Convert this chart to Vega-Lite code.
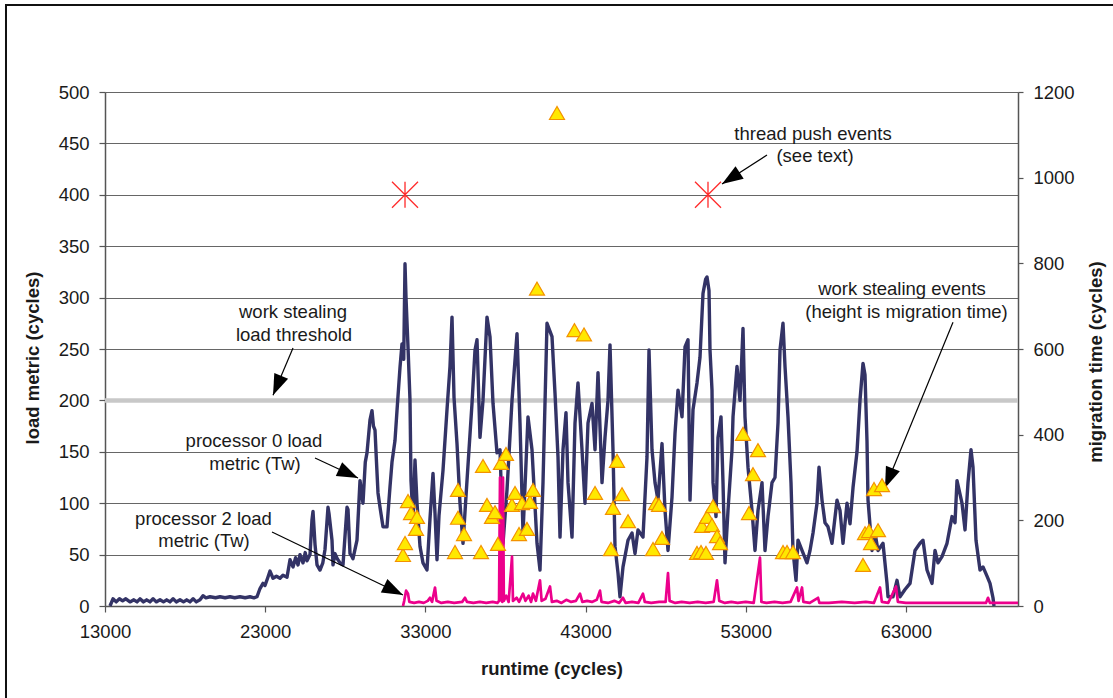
{
  "$schema": "https://vega.github.io/schema/vega-lite/v6.json",
  "width": 913,
  "height": 514,
  "autosize": {"type": "none"},
  "padding": {"left": 105, "top": 92, "right": 95, "bottom": 92},
  "background": "white",
  "config": {
    "view": {"stroke": null},
    "axis": {
      "labelFont": "Liberation Sans", "labelFontSize": 18.5, "labelColor": "#1a1a1a",
      "titleFont": "Liberation Sans", "titleFontSize": 18.5, "titleFontWeight": "bold", "titleColor": "#1a1a1a",
      "domainColor": "#555555", "domainWidth": 1.5, "tickColor": "#555555", "tickWidth": 1.2,
      "gridColor": "#666666", "gridWidth": 1.2, "gridOpacity": 1, "labelFlush": false, "labelOverlap": false
    }
  },
  "datasets": {
    "p0": [
      {"x":13312,"y":0},{"x":13499,"y":7},{"x":13700,"y":4},{"x":13900,"y":7},{"x":14100,"y":5},{"x":14300,"y":7},{"x":14561,"y":4},{"x":14800,"y":6},{"x":15000,"y":4},{"x":15185,"y":7},{"x":15400,"y":4},{"x":15600,"y":6},{"x":15809,"y":4},{"x":16000,"y":7},{"x":16200,"y":4},{"x":16434,"y":6},{"x":16650,"y":4},{"x":16850,"y":6},{"x":17058,"y":4},{"x":17250,"y":7},{"x":17450,"y":4},{"x":17682,"y":6},{"x":17900,"y":4},{"x":18100,"y":6},{"x":18307,"y":4},{"x":18500,"y":7},{"x":18700,"y":4},{"x":18931,"y":6},{"x":19118,"y":10},{"x":19300,"y":8},{"x":19555,"y":9},{"x":19900,"y":8},{"x":20180,"y":9},{"x":20500,"y":8},{"x":20804,"y":9},{"x":21100,"y":8},{"x":21428,"y":9},{"x":21750,"y":8},{"x":22053,"y":9},{"x":22300,"y":8},{"x":22490,"y":9},{"x":22677,"y":17},{"x":22864,"y":22},{"x":22989,"y":20},{"x":23150,"y":27},{"x":23301,"y":34},{"x":23489,"y":27},{"x":23700,"y":29},{"x":23926,"y":27},{"x":24113,"y":30},{"x":24363,"y":28},{"x":24550,"y":45},{"x":24737,"y":38},{"x":24900,"y":47},{"x":25050,"y":40},{"x":25174,"y":50},{"x":25362,"y":42},{"x":25500,"y":52},{"x":25611,"y":44},{"x":25799,"y":50},{"x":25923,"y":84},{"x":25986,"y":92},{"x":26111,"y":60},{"x":26236,"y":40},{"x":26423,"y":35},{"x":26600,"y":42},{"x":26735,"y":55},{"x":26922,"y":96},{"x":26985,"y":90},{"x":27172,"y":64},{"x":27235,"y":40},{"x":27359,"y":51},{"x":27500,"y":46},{"x":27672,"y":42},{"x":27859,"y":40},{"x":28109,"y":96},{"x":28171,"y":94},{"x":28296,"y":51},{"x":28421,"y":48},{"x":28483,"y":46},{"x":28733,"y":64},{"x":28920,"y":122},{"x":29107,"y":100},{"x":29250,"y":140},{"x":29357,"y":149},{"x":29544,"y":181},{"x":29669,"y":190},{"x":29760,"y":175},{"x":29857,"y":171},{"x":29950,"y":140},{"x":30044,"y":110},{"x":30169,"y":96},{"x":30356,"y":77},{"x":30606,"y":77},{"x":30793,"y":116},{"x":30918,"y":140},{"x":31105,"y":161},{"x":31230,"y":190},{"x":31417,"y":232},{"x":31542,"y":255},{"x":31650,"y":240},{"x":31730,"y":333},{"x":31792,"y":300},{"x":31917,"y":252},{"x":32042,"y":200},{"x":32104,"y":122},{"x":32230,"y":85},{"x":32354,"y":142},{"x":32479,"y":100},{"x":32666,"y":58},{"x":32853,"y":42},{"x":33103,"y":35},{"x":33290,"y":85},{"x":33478,"y":129},{"x":33603,"y":90},{"x":33727,"y":45},{"x":33852,"y":88},{"x":34102,"y":132},{"x":34352,"y":191},{"x":34539,"y":233},{"x":34664,"y":281},{"x":34789,"y":203},{"x":34976,"y":158},{"x":35163,"y":100},{"x":35351,"y":61},{"x":35600,"y":122},{"x":35913,"y":197},{"x":36100,"y":249},{"x":36225,"y":259},{"x":36412,"y":164},{"x":36599,"y":200},{"x":36849,"y":281},{"x":37036,"y":262},{"x":37224,"y":197},{"x":37473,"y":149},{"x":37661,"y":152},{"x":37848,"y":61},{"x":38098,"y":113},{"x":38410,"y":200},{"x":38722,"y":265},{"x":38909,"y":178},{"x":39097,"y":71},{"x":39409,"y":184},{"x":39658,"y":152},{"x":39971,"y":61},{"x":40158,"y":35},{"x":40345,"y":120},{"x":40595,"y":275},{"x":40907,"y":262},{"x":41094,"y":207},{"x":41282,"y":145},{"x":41407,"y":67},{"x":41594,"y":152},{"x":41781,"y":188},{"x":41906,"y":120},{"x":42156,"y":67},{"x":42343,"y":178},{"x":42530,"y":217},{"x":42780,"y":152},{"x":42967,"y":100},{"x":43155,"y":178},{"x":43404,"y":197},{"x":43592,"y":152},{"x":43779,"y":227},{"x":44029,"y":120},{"x":44216,"y":164},{"x":44403,"y":200},{"x":44528,"y":254},{"x":44715,"y":152},{"x":44840,"y":58},{"x":45028,"y":32},{"x":45152,"y":9},{"x":45340,"y":38},{"x":45652,"y":64},{"x":45902,"y":71},{"x":46089,"y":51},{"x":46276,"y":74},{"x":46588,"y":67},{"x":46838,"y":145},{"x":46963,"y":249},{"x":47150,"y":152},{"x":47338,"y":120},{"x":47525,"y":103},{"x":47775,"y":158},{"x":47962,"y":93},{"x":48149,"y":54},{"x":48399,"y":106},{"x":48586,"y":168},{"x":48774,"y":210},{"x":49023,"y":184},{"x":49211,"y":252},{"x":49398,"y":259},{"x":49523,"y":103},{"x":49710,"y":191},{"x":49960,"y":217},{"x":50147,"y":242},{"x":50334,"y":304},{"x":50500,"y":318},{"x":50584,"y":320},{"x":50709,"y":307},{"x":50771,"y":249},{"x":50896,"y":210},{"x":50959,"y":120},{"x":51146,"y":87},{"x":51271,"y":164},{"x":51458,"y":184},{"x":51583,"y":120},{"x":51708,"y":42},{"x":51895,"y":93},{"x":52145,"y":152},{"x":52208,"y":184},{"x":52457,"y":233},{"x":52644,"y":200},{"x":52832,"y":270},{"x":52956,"y":184},{"x":53144,"y":135},{"x":53393,"y":93},{"x":53581,"y":54},{"x":53768,"y":93},{"x":54018,"y":120},{"x":54205,"y":54},{"x":54392,"y":87},{"x":54642,"y":120},{"x":54829,"y":125},{"x":55017,"y":178},{"x":55142,"y":249},{"x":55329,"y":275},{"x":55454,"y":233},{"x":55641,"y":184},{"x":55828,"y":120},{"x":55953,"y":54},{"x":56141,"y":25},{"x":56265,"y":64},{"x":56515,"y":54},{"x":56827,"y":42},{"x":57015,"y":54},{"x":57202,"y":71},{"x":57452,"y":100},{"x":57577,"y":135},{"x":57764,"y":103},{"x":57951,"y":81},{"x":58138,"y":77},{"x":58388,"y":61},{"x":58700,"y":103},{"x":58888,"y":93},{"x":59075,"y":61},{"x":59325,"y":100},{"x":59512,"y":80},{"x":59699,"y":115},{"x":59949,"y":150},{"x":60136,"y":200},{"x":60323,"y":236},{"x":60448,"y":225},{"x":60573,"y":160},{"x":60636,"y":103},{"x":60885,"y":54},{"x":61073,"y":71},{"x":61260,"y":54},{"x":61572,"y":61},{"x":61822,"y":22},{"x":61884,"y":9},{"x":62196,"y":9},{"x":62446,"y":25},{"x":62633,"y":9},{"x":62946,"y":16},{"x":63258,"y":22},{"x":63570,"y":54},{"x":63882,"y":61},{"x":64069,"y":64},{"x":64319,"y":35},{"x":64631,"y":22},{"x":64819,"y":54},{"x":65006,"y":42},{"x":65255,"y":48},{"x":65568,"y":61},{"x":65880,"y":87},{"x":66067,"y":81},{"x":66192,"y":122},{"x":66504,"y":100},{"x":66692,"y":74},{"x":66879,"y":120},{"x":67066,"y":152},{"x":67191,"y":135},{"x":67378,"y":64},{"x":67628,"y":35},{"x":67815,"y":38},{"x":68065,"y":29},{"x":68252,"y":22},{"x":68439,"y":8},{"x":68502,"y":0}
    ],
    "p2": [
      {"x":31605,"y":0},{"x":31680,"y":5},{"x":31800,"y":15},{"x":31917,"y":12},{"x":32000,"y":4},{"x":32300,"y":3},{"x":32600,"y":4},{"x":32900,"y":3},{"x":33150,"y":5},{"x":33290,"y":8},{"x":33420,"y":4},{"x":33603,"y":18},{"x":33700,"y":5},{"x":34000,"y":3},{"x":34400,"y":4},{"x":34800,"y":3},{"x":35300,"y":4},{"x":35476,"y":8},{"x":35600,"y":4},{"x":36000,"y":3},{"x":36400,"y":4},{"x":36800,"y":3},{"x":37200,"y":4},{"x":37500,"y":3},{"x":37600,"y":5},{"x":37661,"y":125},{"x":37720,"y":6},{"x":37800,"y":4},{"x":37848,"y":125},{"x":37900,"y":5},{"x":38050,"y":10},{"x":38200,"y":4},{"x":38410,"y":48},{"x":38470,"y":5},{"x":38700,"y":8},{"x":38850,"y":4},{"x":39097,"y":12},{"x":39250,"y":5},{"x":39450,"y":10},{"x":39600,"y":4},{"x":39721,"y":12},{"x":39900,"y":5},{"x":40158,"y":25},{"x":40260,"y":5},{"x":40500,"y":7},{"x":40782,"y":19},{"x":40900,"y":4},{"x":41200,"y":5},{"x":41500,"y":3},{"x":41800,"y":6},{"x":42100,"y":4},{"x":42400,"y":5},{"x":42655,"y":12},{"x":42800,"y":4},{"x":43100,"y":5},{"x":43400,"y":4},{"x":43700,"y":6},{"x":43904,"y":15},{"x":44000,"y":4},{"x":44400,"y":3},{"x":44800,"y":5},{"x":45100,"y":3},{"x":45340,"y":8},{"x":45500,"y":3},{"x":45900,"y":4},{"x":46300,"y":3},{"x":46588,"y":12},{"x":46700,"y":4},{"x":47100,"y":3},{"x":47600,"y":4},{"x":48000,"y":4},{"x":48149,"y":32},{"x":48250,"y":5},{"x":48600,"y":3},{"x":49000,"y":4},{"x":49500,"y":3},{"x":50000,"y":4},{"x":50500,"y":3},{"x":51000,"y":4},{"x":51208,"y":25},{"x":51350,"y":5},{"x":51700,"y":3},{"x":52100,"y":4},{"x":52500,"y":3},{"x":53000,"y":4},{"x":53500,"y":3},{"x":53893,"y":47},{"x":53980,"y":4},{"x":54300,"y":3},{"x":54800,"y":4},{"x":55300,"y":3},{"x":55800,"y":4},{"x":56202,"y":18},{"x":56300,"y":5},{"x":56515,"y":18},{"x":56600,"y":4},{"x":57000,"y":3},{"x":57515,"y":8},{"x":57600,"y":3},{"x":58200,"y":3},{"x":59000,"y":4},{"x":59800,"y":3},{"x":60500,"y":4},{"x":61000,"y":3},{"x":61385,"y":18},{"x":61500,"y":4},{"x":61900,"y":3},{"x":62384,"y":19},{"x":62500,"y":4},{"x":63000,"y":3},{"x":64000,"y":3},{"x":65000,"y":3},{"x":66000,"y":3},{"x":67000,"y":3},{"x":68000,"y":3},{"x":68128,"y":8},{"x":68250,"y":3},{"x":70000,"y":3}
    ],
    "ws": [
      {"x":31605,"t":119},{"x":31730,"t":147},{"x":31917,"t":245},{"x":32104,"t":217},{"x":32416,"t":180},{"x":32479,"t":208},{"x":34851,"t":126},{"x":35038,"t":271},{"x":35038,"t":206},{"x":35413,"t":168},{"x":36474,"t":126},{"x":36599,"t":327},{"x":36849,"t":236},{"x":37161,"t":208},{"x":37348,"t":219},{"x":37536,"t":145},{"x":37723,"t":334},{"x":38035,"t":355},{"x":38410,"t":236},{"x":38597,"t":264},{"x":38847,"t":168},{"x":39034,"t":240},{"x":39346,"t":180},{"x":39534,"t":243},{"x":39721,"t":271},{"x":39971,"t":741},{"x":41219,"t":1151},{"x":42311,"t":644},{"x":42905,"t":634},{"x":43592,"t":264},{"x":44590,"t":133},{"x":44715,"t":229},{"x":44965,"t":339},{"x":45277,"t":261},{"x":45652,"t":198},{"x":47213,"t":133},{"x":47400,"t":240},{"x":47587,"t":236},{"x":47775,"t":159},{"x":49960,"t":124},{"x":50210,"t":126},{"x":50521,"t":124},{"x":50272,"t":187},{"x":50584,"t":208},{"x":50896,"t":189},{"x":50959,"t":233},{"x":51208,"t":163},{"x":51396,"t":147},{"x":52832,"t":402},{"x":53206,"t":217},{"x":53456,"t":308},{"x":53768,"t":364},{"x":55329,"t":126},{"x":55579,"t":126},{"x":55953,"t":126},{"x":60323,"t":96},{"x":60448,"t":170},{"x":60698,"t":175},{"x":60823,"t":147},{"x":61010,"t":273},{"x":61260,"t":177},{"x":61510,"t":282}
    ],
    "push": [{"x":31730,"y":400},{"x":50646,"y":400}],
    "threshold": [{"y":200}],
    "notes": [
      {"x":24737,"y":286.0,"text":"work stealing"},
      {"x":24800,"y":263.6,"text":"load threshold"},
      {"x":22302,"y":160.5,"text":"processor 0 load"},
      {"x":22365,"y":138.1,"text":"metric (Tw)"},
      {"x":19150,"y":84.6,"text":"processor 2 load"},
      {"x":19181,"y":63.2,"text":"metric (Tw)"},
      {"x":57202,"y":459.2,"text":"thread push events"},
      {"x":57327,"y":437.7,"text":"(see text)"},
      {"x":62758,"y":308.4,"text":"work stealing events"},
      {"x":63039,"y":286.0,"text":"(height is migration time)"}
    ],
    "arrows": [
      {"id":"thr","x":24737,"y":251,"x2":23489,"y2":205},
      {"id":"p0","x":26111,"y":144,"x2":28795,"y2":124.5},
      {"id":"p2","x":23426,"y":72,"x2":31605,"y2":10.7},
      {"id":"push","x":54330,"y":438.7,"x2":51521,"y2":410.5},
      {"id":"ws","x":65942,"y":276,"x2":61697,"y2":114.8}
    ]
  },
  "layer": [
    {
      "data": {"name": "threshold"},
      "mark": {"type": "rule", "color": "#C8C8C8", "strokeWidth": 4.5},
      "encoding": {
        "y": {"field": "y", "type": "quantitative", "scale": {"domain": [0, 500], "nice": false}, "axis": null}
      }
    },
    {
      "data": {"name": "p0"},
      "mark": {"type": "line", "color": "#333366", "strokeWidth": 3.4, "strokeJoin": "round"},
      "encoding": {
        "x": {"field": "x", "type": "quantitative", "scale": {"domain": [13000, 70000], "nice": false},
          "axis": {"title": "runtime (cycles)", "values": [13000, 23000, 33000, 43000, 53000, 63000], "format": "d", "grid": false, "tickSize": 6, "labelPadding": 10, "titleX": 446.5, "titleY": 62, "titleBaseline": "middle", "titleAlign": "center", "labels": true, "ticks": true, "domain": true}},
        "y": {"field": "y", "type": "quantitative", "scale": {"domain": [0, 500], "nice": false},
          "axis": {"title": "load metric (cycles)", "values": [0, 50, 100, 150, 200, 250, 300, 350, 400, 450, 500], "format": "d", "grid": true, "tickSize": 6, "labelPadding": 10, "titleX": -73, "titleY": 265.5, "titleAngle": 270, "titleBaseline": "middle", "titleAlign": "center"}}
      }
    },
    {
      "data": {"name": "p2"},
      "mark": {"type": "line", "color": "#EC008C", "strokeWidth": 2.7, "strokeJoin": "round"},
      "encoding": {
        "x": {"field": "x", "type": "quantitative", "scale": {"domain": [13000, 70000], "nice": false}},
        "y": {"field": "y", "type": "quantitative", "scale": {"domain": [0, 500], "nice": false}, "axis": null}
      }
    },
    {
      "data": {"name": "push"},
      "mark": {"type": "point", "shape": "M0,-1L0,1M-1,-1L1,1M-1,1L1,-1", "size": 676, "filled": false, "stroke": "#FF2A2A", "strokeWidth": 1.3, "opacity": 1},
      "encoding": {
        "x": {"field": "x", "type": "quantitative", "scale": {"domain": [13000, 70000], "nice": false}},
        "y": {"field": "y", "type": "quantitative", "scale": {"domain": [0, 500], "nice": false}, "axis": null}
      }
    },
    {
      "data": {"name": "arrows"},
      "mark": {"type": "rule", "color": "#000000", "strokeWidth": 1.2},
      "encoding": {
        "x": {"field": "x", "type": "quantitative", "scale": {"domain": [13000, 70000], "nice": false}},
        "y": {"field": "y", "type": "quantitative", "scale": {"domain": [0, 500], "nice": false}, "axis": null},
        "x2": {"field": "x2"},
        "y2": {"field": "y2"}
      }
    },
    {
      "data": {"name": "arrows"},
      "transform": [{"filter": "datum.id === 'thr'"}],
      "mark": {"type": "point", "shape": "M0,0L0.75,2.1L-0.75,2.1Z", "size": 400, "filled": true, "color": "#000000", "opacity": 1, "angle": 203},
      "encoding": {
        "x": {"field": "x2", "type": "quantitative", "scale": {"domain": [13000, 70000], "nice": false}},
        "y": {"field": "y2", "type": "quantitative", "scale": {"domain": [0, 500], "nice": false}, "axis": null}
      }
    },
    {
      "data": {"name": "arrows"},
      "transform": [{"filter": "datum.id === 'p0'"}],
      "mark": {"type": "point", "shape": "M0,0L0.75,2.1L-0.75,2.1Z", "size": 400, "filled": true, "color": "#000000", "opacity": 1, "angle": 115},
      "encoding": {
        "x": {"field": "x2", "type": "quantitative", "scale": {"domain": [13000, 70000], "nice": false}},
        "y": {"field": "y2", "type": "quantitative", "scale": {"domain": [0, 500], "nice": false}, "axis": null}
      }
    },
    {
      "data": {"name": "arrows"},
      "transform": [{"filter": "datum.id === 'p2'"}],
      "mark": {"type": "point", "shape": "M0,0L0.75,2.1L-0.75,2.1Z", "size": 400, "filled": true, "color": "#000000", "opacity": 1, "angle": 116},
      "encoding": {
        "x": {"field": "x2", "type": "quantitative", "scale": {"domain": [13000, 70000], "nice": false}},
        "y": {"field": "y2", "type": "quantitative", "scale": {"domain": [0, 500], "nice": false}, "axis": null}
      }
    },
    {
      "data": {"name": "arrows"},
      "transform": [{"filter": "datum.id === 'push'"}],
      "mark": {"type": "point", "shape": "M0,0L0.75,2.1L-0.75,2.1Z", "size": 400, "filled": true, "color": "#000000", "opacity": 1, "angle": 237},
      "encoding": {
        "x": {"field": "x2", "type": "quantitative", "scale": {"domain": [13000, 70000], "nice": false}},
        "y": {"field": "y2", "type": "quantitative", "scale": {"domain": [0, 500], "nice": false}, "axis": null}
      }
    },
    {
      "data": {"name": "arrows"},
      "transform": [{"filter": "datum.id === 'ws'"}],
      "mark": {"type": "point", "shape": "M0,0L0.75,2.1L-0.75,2.1Z", "size": 400, "filled": true, "color": "#000000", "opacity": 1, "angle": 202},
      "encoding": {
        "x": {"field": "x2", "type": "quantitative", "scale": {"domain": [13000, 70000], "nice": false}},
        "y": {"field": "y2", "type": "quantitative", "scale": {"domain": [0, 500], "nice": false}, "axis": null}
      }
    },
    {
      "data": {"name": "notes"},
      "mark": {"type": "text", "font": "Liberation Sans", "fontSize": 18.5, "color": "#1a1a1a", "align": "center", "baseline": "middle"},
      "encoding": {
        "x": {"field": "x", "type": "quantitative", "scale": {"domain": [13000, 70000], "nice": false}},
        "y": {"field": "y", "type": "quantitative", "scale": {"domain": [0, 500], "nice": false}, "axis": null},
        "text": {"field": "text"}
      }
    },
    {
      "data": {"name": "ws"},
      "mark": {"type": "point", "shape": "triangle-up", "size": 225, "filled": true, "fill": "#FFE800", "stroke": "#F39200", "strokeWidth": 1.2, "opacity": 1},
      "encoding": {
        "x": {"field": "x", "type": "quantitative", "scale": {"domain": [13000, 70000], "nice": false}},
        "y": {"field": "t", "type": "quantitative", "scale": {"domain": [0, 1200], "nice": false},
          "axis": {"orient": "right", "title": "migration time (cycles)", "values": [0, 200, 400, 600, 800, 1000, 1200], "format": "d", "grid": false, "tickSize": 5, "labelPadding": 10, "titleX": 77.5, "titleY": 269.5, "titleAngle": 270, "titleBaseline": "middle", "titleAlign": "center"}}
      }
    },
    {
      "data": {"values": [{}]},
      "mark": {"type": "rect", "filled": false, "stroke": "#111111", "strokeWidth": 2},
      "encoding": {
        "x": {"datum": 6819, "type": "quantitative", "scale": {"domain": [13000, 70000], "nice": false}},
        "x2": {"datum": 76368},
        "y": {"datum": 584.6, "type": "quantitative", "scale": {"domain": [0, 500], "nice": false}, "axis": null},
        "y2": {"datum": -96}
      }
    }
  ],
  "resolve": {"scale": {"y": "independent"}}
}
